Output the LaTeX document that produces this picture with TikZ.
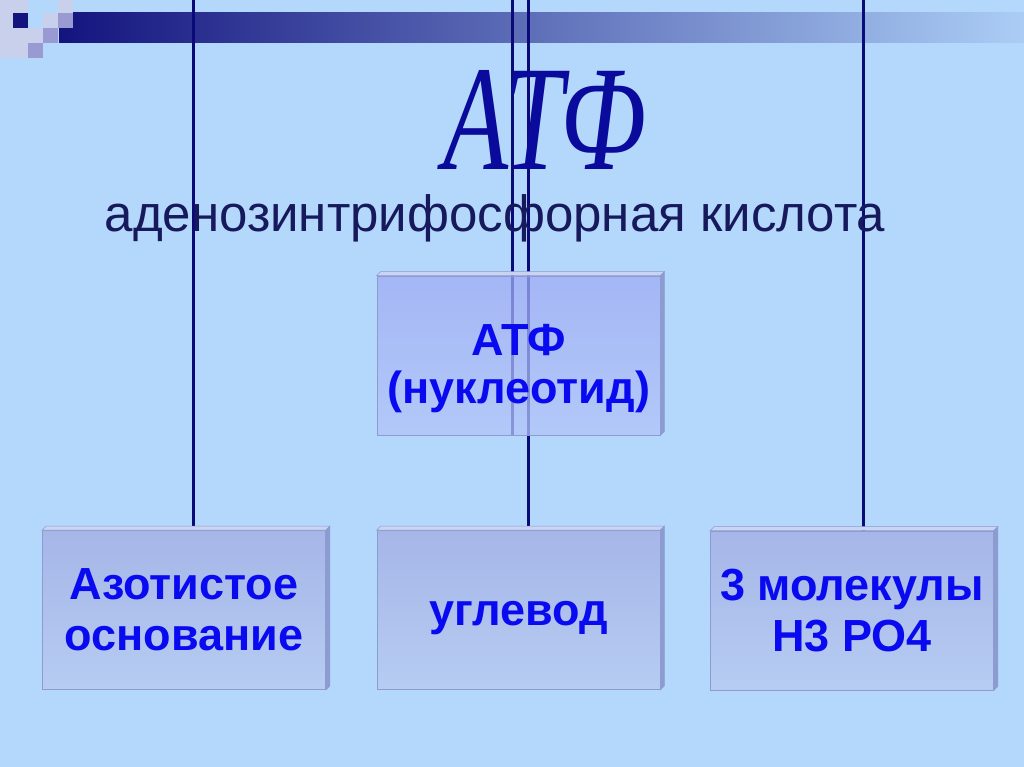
\documentclass[tikz,border=0pt]{standalone}
\usepackage{fontspec}
\setmainfont{Liberation Sans}
\newfontfamily\titlefont{Liberation Serif}
\usetikzlibrary{calc}

\definecolor{bgblue}{HTML}{B4D7FC}
\definecolor{navy}{HTML}{0A0A78}
\definecolor{bardark}{HTML}{14147E}
\definecolor{barlight}{HTML}{ABCDF5}
\definecolor{lavlight}{HTML}{C8D0EC}
\definecolor{lavmid}{HTML}{9A9AD2}
\definecolor{titleblue}{HTML}{0A0A9C}
\definecolor{subnavy}{HTML}{16195C}
\definecolor{boxtext}{HTML}{0A0AF0}
\definecolor{boxedge}{HTML}{8C9CD0}
\definecolor{boxtop}{HTML}{A6B6E8}
\definecolor{boxbot}{HTML}{B6CCF2}
\definecolor{atftop}{HTML}{A0ACF4}
\definecolor{atfbot}{HTML}{B2C4F8}

\pgfdeclarelayer{bg}
\pgfsetlayers{bg,main}

\begin{document}
\begin{tikzpicture}[x=1pt, y=-1pt,
    link/.style={line width=3pt, navy},
    box/.style={draw=boxedge, line width=0.8pt, minimum width=283pt, minimum height=159pt,
        inner sep=0pt, top color=boxtop, bottom color=boxbot},
    boxlabel/.style={align=center, text=boxtext, inner sep=0pt,
        font=\fontsize{45}{51}\selectfont\bfseries},
    bevtop/.style={fill=boxtop!60!white, draw=boxedge, line width=0.5pt},
    bevside/.style={fill=boxedge, draw=boxedge, line width=0.5pt}]
    \useasboundingbox (0,0) rectangle (1024,767);

    % Boxes
    \node[box, top color=atftop, bottom color=atfbot, fill opacity=0.75] (atf) at (518.5,355.5) {};
    \node[box] (azot) at (184,610) {};
    \node[box] (ugl) at (518.5,610) {};
    \node[box] (mol) at (852,610.5) {};

    % 3D edges
    \foreach \b in {atf, azot, ugl, mol} {
        \draw[bevtop] (\b.north west) -- ++(4pt,4pt) -- ($(\b.north east)+(4pt,4pt)$)
            -- (\b.north east) -- cycle;
        \draw[bevside] (\b.north east) -- ++(4pt,4pt) -- ($(\b.south east)+(4pt,4pt)$)
            -- (\b.south east) -- cycle;
    }

    % Box texts
    \node[boxlabel, font=\fontsize{45}{48}\selectfont\bfseries] (atftext)
        at ([yshift=-13pt]atf.center) {АТФ\\(нуклеотид)};
    \node[boxlabel] (azottext) at (azot.center) {Азотистое\\основание};
    \node[boxlabel] (ugltext) at ([yshift=-8pt]ugl.center) {углевод};
    \node[boxlabel] (moltext) at (mol.center) {3 молекулы\\Н3 РО4};

    % Titles
    \node[anchor=base, text=titleblue, inner sep=0pt] (title) at (545,170)
        {\scalebox{0.71}[1]{\titlefont\itshape\fontsize{150}{150}\selectfont АТФ}};
    \node[anchor=base, text=subnavy, inner sep=0pt] (subtitle) at (495,232)
        {\fontsize{51}{51}\selectfont аденозинтрифосфорная кислота};

    \begin{pgfonlayer}{bg}
        % Background and header bar
        \fill[bgblue] (0,0) rectangle (1024,767);
        \shade[left color=bardark, right color=barlight] (59,13) rectangle (1024,43);
        \foreach \c/\r in {0/0, 0/1, 0/2, 0/3, 1/0, 1/2, 1/3, 2/2, 3/1, 4/0}
            \fill[lavlight] (-2+15*\c,-2+15*\r) rectangle ++(15,15);
        \foreach \c/\r in {4/1, 3/2, 2/3}
            \fill[lavmid] (-2+15*\c,-2+15*\r) rectangle ++(15,15);
        \fill[bardark] (13,13) rectangle ++(15,15);

        % Connectors
        \coordinate (topA) at (193,0);
        \coordinate (topB) at (512,0);
        \coordinate (topC) at (528,0);
        \coordinate (topD) at (863,0);
        \draw[link] (topA) -- (topA |- azot.north);
        \draw[link] (topB) -- (topB |- atf.south);
        \draw[link] (topC) -- (topC |- ugl.north);
        \draw[link] (topD) -- (topD |- mol.north);
    \end{pgfonlayer}
\end{tikzpicture}
\end{document}
